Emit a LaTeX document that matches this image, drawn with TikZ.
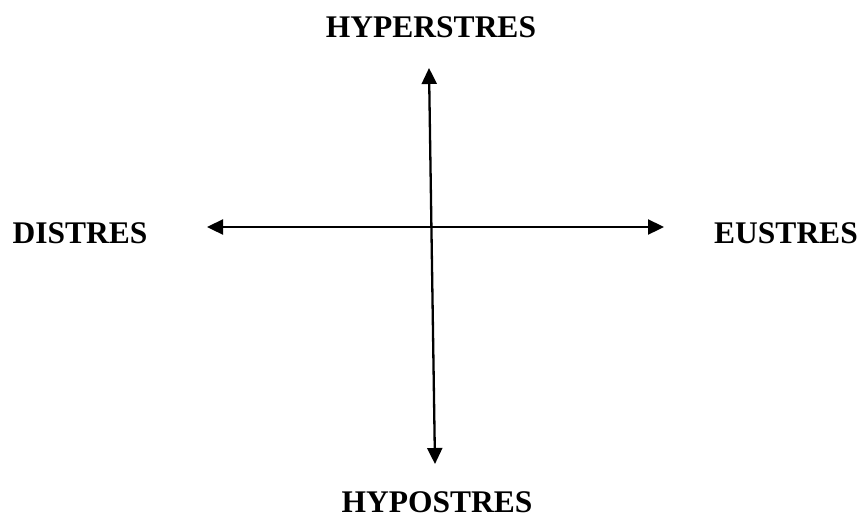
\documentclass[tikz,border=0pt]{standalone}
\usepackage{fontspec}
\setmainfont{Liberation Serif}
\usetikzlibrary{arrows.meta}
\begin{document}
\begin{tikzpicture}[x=1pt,y=-1pt,
  lbl/.style={font=\fontsize{31.5}{36}\selectfont\bfseries, inner sep=0pt, anchor=base},
  axis/.style={line width=2.3pt, {Triangle[length=16pt,width=15pt]}-{Triangle[length=16pt,width=15pt]}}]
\useasboundingbox (0,0) rectangle (862,520);
\node[lbl] (hyper) at (431,37) {HYPERSTRES};
\node[lbl] (hypo) at (437,512) {HYPOSTRES};
\node[lbl] (dis) at (80,243) {DISTRES};
\node[lbl] (eu) at (786,243) {EUSTRES};
\coordinate (vtop) at (429,68);
\coordinate (vbot) at (435,464);
\coordinate (hleft) at (207,227);
\coordinate (hright) at (664,227);
\draw[axis] (vtop) -- (vbot);
\draw[axis] (hleft) -- (hright);
\end{tikzpicture}
\end{document}
